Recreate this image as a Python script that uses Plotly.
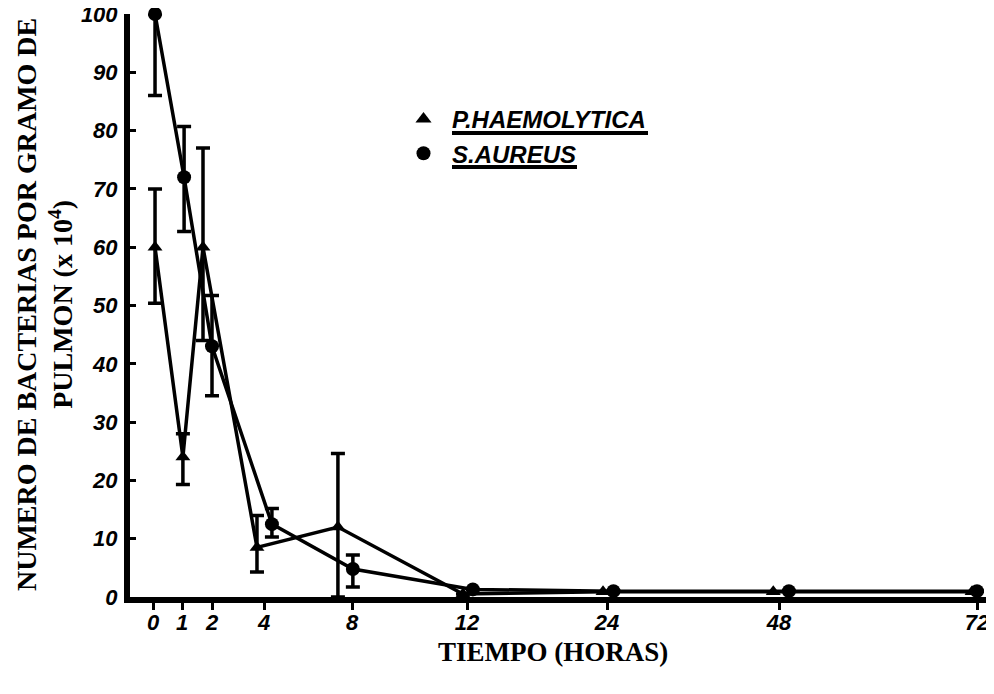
import numpy as np
import plotly.graph_objects as go

# ---- data (hours, values x10^4 bacteria per gram of lung) ----
tick_hours = [0, 1, 2, 4, 8, 12, 24, 48, 72]
tick_labels = ["0", "1", "2", "4", "8", "12", "24", "48", "72"]
y_ticks = [0, 10, 20, 30, 40, 50, 60, 70, 80, 90, 100]

ph_hours = [0.07, 1.03, 1.7, 3.73, 7.36, 11.86, 23.66, 47.2, 71.4]
ph_values = [60, 24, 60, 8.5, 12, 0.5, 0.9, 0.9, 0.9]
ph_err_plus = [10, 4, 17, 5.5, 12.6, None, None, None, None]
ph_err_minus = [9.6, 4.7, 16, 4.2, 12, None, None, None, None]

sa_hours = [0.07, 1.07, 2.0, 4.36, 8.03, 12.5, 24.9, 49.2, 72.7]
sa_values = [100, 72, 43, 12.5, 4.8, 1.3, 1.0, 1.0, 1.0]
sa_err_plus = [0, 8.7, 8.7, 2.7, 2.4, None, None, None, None]
sa_err_minus = [14, 9.3, 8.5, 2.2, 3.1, None, None, None, None]

# ---- non-linear time scale of the original axis (hours -> axis units) ----
scale_units = [153, 182, 212, 264, 352, 467, 607, 779, 977]


def to_axis(h):
    return np.interp(h, tick_hours, scale_units)


# page body has an 8px margin: the figure is drawn from (8, 8)
OFF = 8
W, H = 986, 686
PL, PR, PT, PB = 130, 986, 14, 597          # plot area in page pixels
L, R, T, B = PL - OFF, W - (PR - OFF), PT - OFF, H - (PB - OFF)


def px(xp):
    return (xp - PL) / (PR - PL)


def py(yp):
    return (PB - yp) / (PB - PT)


tick_font = dict(family="Liberation Sans", size=22, color="black",
                 weight="bold", style="italic")

fig = go.Figure()

fig.add_trace(go.Scatter(
    x=to_axis(ph_hours), y=ph_values, mode="lines+markers",
    name="P.HAEMOLYTICA",
    line=dict(color="black", width=3.5),
    marker=dict(symbol="triangle-up", size=13, color="black"),
    error_y=dict(type="data", array=ph_err_plus, arrayminus=ph_err_minus,
                 symmetric=False, color="black", thickness=3.5, width=7),
    cliponaxis=False, showlegend=False,
))
fig.add_trace(go.Scatter(
    x=to_axis(sa_hours), y=sa_values, mode="lines+markers",
    name="S.AUREUS",
    line=dict(color="black", width=3.5),
    marker=dict(symbol="circle", size=14, color="black"),
    error_y=dict(type="data", array=sa_err_plus, arrayminus=sa_err_minus,
                 symmetric=False, color="black", thickness=3.5, width=7),
    cliponaxis=False, showlegend=False,
))

# legend entries (markers only, like the original key)
fig.add_trace(go.Scatter(
    x=[None], y=[None], mode="markers", name="<b><i>P.HAEMOLYTICA</i></b>",
    marker=dict(symbol="triangle-up", size=14, color="black"),
))
fig.add_trace(go.Scatter(
    x=[None], y=[None], mode="markers", name="<b><i>S.AUREUS</i></b>",
    marker=dict(symbol="circle", size=14, color="black"),
))

fig.update_layout(
    width=W, height=H,
    margin=dict(l=L, r=R, t=T, b=B, autoexpand=False),
    paper_bgcolor="white", plot_bgcolor="white",
    xaxis=dict(
        range=[PL, PR], tickmode="array",
        tickvals=to_axis(tick_hours), ticktext=tick_labels,
        showgrid=False, zeroline=False,
        showline=True, linecolor="black", linewidth=6,
        ticks="outside", ticklen=7, tickwidth=3, tickcolor="black",
        tickfont=tick_font, automargin=False,
        ticklabeloverflow="allow", ticklabelstandoff=-6,
    ),
    yaxis=dict(
        range=[0, 100], tickmode="array", tickvals=y_ticks,
        showgrid=False, zeroline=False,
        showline=True, linecolor="black", linewidth=6,
        ticks="inside", ticklen=6, tickwidth=3, tickcolor="black",
        tickfont=tick_font, automargin=False,
        ticklabeloverflow="allow", ticklabelstandoff=2,
    ),
    legend=dict(
        x=px(395), y=py(97),
        xanchor="left", yanchor="top", itemwidth=47,
        font=dict(family="Liberation Sans", size=24, color="black"),
        bgcolor="rgba(0,0,0,0)",
    ),
    shapes=[
        dict(type="line", xref="paper", yref="paper",
             x0=px(452), x1=px(648), y0=py(133), y1=py(133),
             line=dict(color="black", width=4)),
        dict(type="line", xref="paper", yref="paper",
             x0=px(452), x1=px(577), y0=py(167), y1=py(167),
             line=dict(color="black", width=4)),
    ],
    annotations=[
        dict(text="<b>NUMERO DE BACTERIAS POR GRAMO DE<br>PULMON (x 10<sup>4</sup>)</b>",
             xref="paper", yref="paper",
             x=px(44), y=py(305),
             xanchor="center", yanchor="middle", textangle=-90,
             showarrow=False,
             font=dict(family="Liberation Serif", size=28, color="black")),
        dict(text="<b>TIEMPO (HORAS)</b>",
             xref="paper", yref="paper",
             x=px(553), y=py(652),
             xanchor="center", yanchor="middle",
             showarrow=False,
             font=dict(family="Liberation Serif", size=27, color="black")),
    ],
)

fig.write_html("out.html")
